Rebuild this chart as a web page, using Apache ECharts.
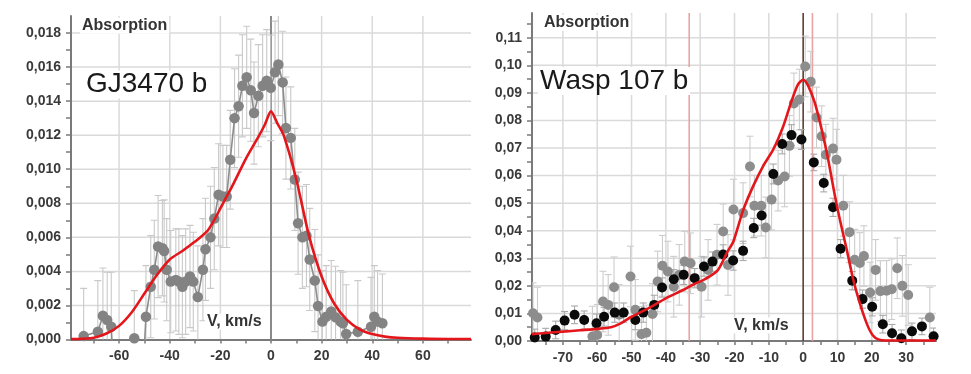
<!DOCTYPE html>
<html><head><meta charset="utf-8">
<script src="https://cdn.jsdelivr.net/npm/echarts@6/dist/echarts.min.js"></script>
<style>html,body{margin:0;padding:0;background:#fff}#c{width:971px;height:374px}</style>
</head><body><div id="c"></div>
<script>
// ---------- GJ3470 b (left panel) ----------
const gjV = [-74.0,-68.4,-66.4,-64.7,-63.1,-61.7,-60.0,-58.3,-56.6,-55.2,-54.0,-52.5,-50.9,-49.4,-47.5,-46.1,-44.6,-42.9,-42.2,-41.2,-39.6,-37.6,-36.4,-35.0,-33.7,-32.0,-30.7,-28.9,-26.9,-25.9,-23.9,-22.4,-20.7,-19.0,-17.5,-16.1,-14.4,-12.8,-11.3,-9.6,-8.0,-6.7,-5.0,-3.3,-1.7,-0.1,1.6,2.9,4.6,5.9,7.8,9.4,10.7,12.4,14.0,15.3,17.3,18.6,20.3,21.8,23.8,25.5,27.5,28.4,29.7,34.3,39.5,40.8,42.1,44.0];
const gjA = [0.0002,0.00046,0.0014,0.00115,0.00075,-0.0035,-0.005,-0.004,-0.0032,-0.003,0.00007,-0.004,-0.003,0.00134,0.0031,0.0041,0.00546,0.00536,0.0052,0.0041,0.0034,0.0035,0.0034,0.0031,0.0034,0.0037,0.0034,0.0025,0.0041,0.0053,0.0060,0.0071,0.0085,0.0084,0.0084,0.01056,0.0130,0.0137,0.0149,0.0154,0.01464,0.0133,0.01432,0.0149,0.0152,0.01478,0.0157,0.01615,0.0151,0.01242,0.01184,0.0094,0.00683,0.0060,0.0061,0.0047,0.00346,0.00197,0.00105,0.00134,0.00164,0.0013,0.00105,0.00095,0.00032,0.00046,0.00075,0.00134,0.00105,0.00095];
const gjErr = [0.0028,0.0030,0.0028,0.0028,0.0032,0.0030,0.0030,0.0030,0.0030,0.0028,0.0028,0.0030,0.0028,0.0030,0.0030,0.0029,0.0030,0.0028,0.0030,0.0030,0.0030,0.0030,0.0031,0.0030,0.0031,0.0030,0.0029,0.0030,0.0030,0.0030,0.0030,0.0030,0.0030,0.0030,0.0030,0.0029,0.0029,0.0030,0.0030,0.0030,0.0030,0.0030,0.0030,0.0030,0.0030,0.0031,0.0030,0.0030,0.0030,0.0030,0.0030,0.0030,0.0030,0.0030,0.0030,0.0030,0.0030,0.0030,0.0030,0.0030,0.0030,0.0030,0.0030,0.0030,0.0029,0.0030,0.0029,0.0030,0.0030,0.0029];
const gjModelV = [-79,-75,-70,-65,-60,-55,-50,-45,-40,-35,-30,-25,-22.5,-20,-17.5,-15,-10,-5,-2.5,0,2.5,5,10,15,20,25,30,35,40,45,50,60,70,79];
const gjModelA = [0.00002,0.00004,0.0001,0.00035,0.0008,0.0016,0.0027,0.0038,0.0047,0.0052,0.00575,0.0064,0.0070,0.0077,0.0084,0.0091,0.0106,0.0119,0.0126,0.0134,0.0127,0.0120,0.0094,0.0061,0.0037,0.0021,0.00115,0.0006,0.00032,0.00017,0.0001,0.00005,0.00003,0.00003];
const gjXLabels = [-60,-40,-20,0,20,40,60];
const gjXTicks = [-70,-60,-50,-40,-30,-20,-10,0,10,20,30,40,50,60,70];
const gjYLabels = [0,0.002,0.004,0.006,0.008,0.010,0.012,0.014,0.016,0.018];
const gjYTicks = [0,0.001,0.002,0.003,0.004,0.005,0.006,0.007,0.008,0.009,0.010,0.011,0.012,0.013,0.014,0.015,0.016,0.017,0.018];
const gjGridX = [-60,-40,-20,20,40,60];
const gjGridY = [0.002,0.004,0.006,0.008,0.010,0.012,0.014,0.016,0.018];
const gjZero = [0];

// ---------- Wasp 107 b (right panel) ----------
const wGrayV = [-78.7,-77.4,-61.4,-60.0,-58.3,-56.8,-55.1,-53.6,-50.3,-48.9,-47.1,-45.7,-43.9,-42.4,-41.0,-39.4,-37.7,-36.1,-34.5,-32.8,-29.6,-27.7,-25.1,-23.3,-21.9,-20.3,-17.5,-15.5,-14.2,-12.2,-10.9,-9.2,-7.3,-5.4,-4.0,-2.7,-1.1,0.6,2.2,3.9,5.4,6.6,8.7,9.7,11.7,13.5,15.0,16.5,17.7,19.5,21.1,22.5,24.3,25.8,27.4,28.9,30.6,36.9];
const wGrayA = [0.0101,0.0085,0.0016,0.0022,0.0143,0.0131,0.0195,0.0095,0.0234,0.0113,0.0025,0.0030,0.0098,0.0216,0.0273,0.0252,0.0197,0.0240,0.0288,0.0282,0.0197,0.0258,0.0313,0.0397,0.0276,0.0477,0.0464,0.0633,0.0491,0.0491,0.0412,0.0513,0.0582,0.0597,0.0708,0.0862,0.0876,0.0996,0.0941,0.0811,0.0743,0.0676,0.0698,0.0658,0.0491,0.0395,0.0295,0.0283,0.0308,0.0176,0.0258,0.0181,0.0182,0.0188,0.0264,0.0200,0.0167,0.0085];
const wGrayErr = [0.011,0.011,0.011,0.011,0.011,0.011,0.011,0.011,0.011,0.011,0.010,0.010,0.011,0.011,0.011,0.011,0.011,0.011,0.011,0.011,0.011,0.011,0.011,0.010,0.011,0.011,0.011,0.011,0.011,0.011,0.011,0.011,0.011,0.011,0.011,0.011,0.011,0.011,0.011,0.011,0.011,0.011,0.011,0.011,0.011,0.011,0.011,0.011,0.011,0.011,0.011,0.011,0.011,0.011,0.011,0.011,0.011,0.011];
const wBlackV = [-78.2,-75.0,-72.1,-69.5,-66.6,-63.8,-60.2,-58.0,-54.9,-52.3,-48.9,-46.6,-43.4,-41.1,-37.7,-34.8,-31.6,-28.9,-26.4,-23.3,-20.4,-17.5,-14.4,-12.1,-8.7,-6.1,-3.4,-0.5,3.1,6.0,8.7,10.9,14.3,17.3,20.1,23.2,25.9,28.6,31.7,34.6,38.0];
const wBlackA = [0.0013,0.0016,0.0040,0.0074,0.0095,0.0076,0.0064,0.0088,0.0103,0.0103,0.0076,0.0103,0.0131,0.0194,0.0224,0.0240,0.0228,0.0270,0.0288,0.0314,0.0292,0.0327,0.0410,0.0455,0.0606,0.0715,0.0747,0.0731,0.0648,0.0573,0.0485,0.0335,0.0219,0.0152,0.0124,0.0061,0.0028,0.0010,0.0035,0.0053,0.0017];
const wBlackErr = [0.0030,0.0030,0.0032,0.0033,0.0032,0.0033,0.0034,0.0034,0.0035,0.0035,0.0035,0.0035,0.0035,0.0035,0.0035,0.0035,0.0035,0.0035,0.0035,0.0035,0.0035,0.0035,0.0035,0.0035,0.0036,0.0036,0.0038,0.0036,0.0030,0.0032,0.0033,0.0033,0.0033,0.0033,0.0033,0.0032,0.0032,0.0030,0.0030,0.0030,0.0030];
const wModelV = [-79,-75,-70,-65,-60,-56,-53,-50,-45,-40,-35,-32,-29,-27,-25,-24.3,-23,-22,-20.3,-17.5,-14.6,-11.7,-8.7,-5.8,-3.4,-1.5,0,1.5,3.4,5.4,7.3,9.2,10.7,12.7,14.6,16.5,18.5,20.2,21.9,24,30,38.7];
const wModelA = [0.0025,0.0029,0.0034,0.0039,0.0044,0.0050,0.0065,0.0088,0.0119,0.0155,0.0185,0.0205,0.0222,0.0236,0.0255,0.0268,0.0300,0.0325,0.0362,0.0474,0.0561,0.0634,0.0695,0.0779,0.0870,0.0931,0.0948,0.0925,0.0864,0.0767,0.0658,0.0530,0.0440,0.0331,0.0222,0.0137,0.0064,0.0022,0.0006,0.0002,0.0002,0.0002];
const wXLabels = [-70,-60,-50,-40,-30,-20,-10,0,10,20,30];
const wXTicks = [-75,-70,-65,-60,-55,-50,-45,-40,-35,-30,-25,-20,-15,-10,-5,0,5,10,15,20,25,30,35];
const wYLabels = [0,0.01,0.02,0.03,0.04,0.05,0.06,0.07,0.08,0.09,0.10,0.11];
const wYTicks = [0,0.005,0.01,0.015,0.02,0.025,0.03,0.035,0.04,0.045,0.05,0.055,0.06,0.065,0.07,0.075,0.08,0.085,0.09,0.095,0.10,0.105,0.11,0.115];
const wGridX = [-70,-60,-50,-40,-30,-20,-10,10,20,30];
const wGridY = [0.01,0.02,0.03,0.04,0.05,0.06,0.07,0.08,0.09,0.10,0.11];
const wZero = [0];
const wMarkV = [-33.2, 2.7];

const FONT = '"Liberation Sans", Arial, sans-serif';
const AXC = '#7a7a7a';
const GRIDC = '#dadada';

function zip(...arrs){ return arrs[0].map((_, i) => arrs.map(a => a[i])); }

function vLines(color, width){
  return function(params, api){
    const cs = params.coordSys;
    const x = api.coord([api.value(0), api.value(1)])[0];
    return {type:'line', shape:{x1:x, y1:cs.y, x2:x, y2:cs.y+cs.height}, style:{stroke:color, lineWidth:width}};
  };
}
function hLines(color, width){
  return function(params, api){
    const cs = params.coordSys;
    const y = api.coord([api.value(0), api.value(1)])[1];
    return {type:'line', shape:{x1:cs.x, y1:y, x2:cs.x+cs.width, y2:y}, style:{stroke:color, lineWidth:width}};
  };
}
function errBars(color, cap){
  return function(params, api){
    const x = api.value(0), y = api.value(1), e = api.value(2);
    const t = api.coord([x, y + e]), b = api.coord([x, y - e]);
    const st = {stroke:color, lineWidth:1.1};
    return {type:'group', children:[
      {type:'line', shape:{x1:t[0], y1:t[1], x2:b[0], y2:b[1]}, style:st},
      {type:'line', shape:{x1:t[0]-cap, y1:t[1], x2:t[0]+cap, y2:t[1]}, style:st},
      {type:'line', shape:{x1:b[0]-cap, y1:b[1], x2:b[0]+cap, y2:b[1]}, style:st}
    ]};
  };
}

function xAxisCfg(idx, min, max, labels, ticks){
  return {type:'value', gridIndex:idx, min:min, max:max,
    axisLine:{show:true, onZero:false, lineStyle:{color:AXC, width:2}},
    axisTick:{show:true, customValues:ticks, length:4, lineStyle:{color:AXC, width:1.5}},
    axisLabel:{customValues:labels, margin:10, color:'#3a3a3a', fontFamily:FONT, fontWeight:'bold', fontSize:14},
    splitLine:{show:false}};
}
function yAxisCfg(idx, min, max, labels, ticks, dec){
  return {type:'value', gridIndex:idx, min:min, max:max,
    axisLine:{show:true, onZero:false, lineStyle:{color:AXC, width:2}},
    axisTick:{show:true, customValues:ticks, length:5, lineStyle:{color:AXC, width:1.5}},
    axisLabel:{customValues:labels, margin:10, color:'#3a3a3a', fontFamily:FONT, fontWeight:'bold', fontSize:14,
      formatter:v => Number(v).toFixed(dec).replace('.', ',')},
    splitLine:{show:false}};
}
function label(text, x, y, font, fill){
  return {type:'text', x:x - 2, y:y, z:50,
    style:{text:text, font:font, fill:fill, verticalAlign:'middle', backgroundColor:'#fff', padding:[0,2]}};
}

const chart = echarts.init(document.getElementById('c'), null, {renderer:'canvas'});
chart.setOption({
  backgroundColor:'#fff',
  animation:false,
  grid:[
    {left:71, top:16, width:400, height:323.5},
    {left:532, top:13, width:404, height:328}
  ],
  xAxis:[ xAxisCfg(0, -79, 79, gjXLabels, gjXTicks), xAxisCfg(1, -79, 38.7, wXLabels, wXTicks) ],
  yAxis:[ yAxisCfg(0, 0, 0.019, gjYLabels, gjYTicks, 3), yAxisCfg(1, 0, 0.119, wYLabels, wYTicks, 2) ],
  graphic:[
    label('Absorption', 82, 25.8, 'bold 16px '+FONT, '#333'),
    label('GJ3470 b', 86, 84.5, '28px '+FONT, '#1a1a1a'),
    label('V, km/s', 207, 321.7, 'bold 16px '+FONT, '#333'),
    label('Absorption', 544, 22.8, 'bold 16px '+FONT, '#333'),
    label('Wasp 107 b', 540, 81, '28px '+FONT, '#1a1a1a'),
    label('V, km/s', 734, 325.5, 'bold 16px '+FONT, '#333')
  ],
  series:[
    // left panel
    {type:'custom', xAxisIndex:0, yAxisIndex:0, z:0, silent:true, renderItem:vLines(GRIDC, 1.5), data:gjGridX.map(v=>[v,0])},
    {type:'custom', xAxisIndex:0, yAxisIndex:0, z:0, silent:true, renderItem:hLines(GRIDC, 1.5), data:gjGridY.map(v=>[0,v])},
    {type:'custom', xAxisIndex:0, yAxisIndex:0, z:1, silent:true, renderItem:vLines('#8a8a8a', 2), data:gjZero.map(v=>[v,0])},
    {type:'custom', xAxisIndex:0, yAxisIndex:0, z:1, clip:true, silent:true, renderItem:errBars('#c9c9c9', 3.5), data:zip(gjV, gjA, gjErr)},
    {type:'line', xAxisIndex:0, yAxisIndex:0, z:3, data:zip(gjV, gjA), symbol:'circle', symbolSize:10.5, showAllSymbol:true,
      itemStyle:{color:'#838383', opacity:1}, lineStyle:{color:'#8c8c8c', width:1.6}, clip:true},
    {type:'line', xAxisIndex:0, yAxisIndex:0, z:4, data:zip(gjModelV, gjModelA), symbol:'none', smooth:0.25,
      lineStyle:{color:'#e3171b', width:2.6}},
    // right panel
    {type:'custom', xAxisIndex:1, yAxisIndex:1, z:0, silent:true, renderItem:vLines(GRIDC, 1.5), data:wGridX.map(v=>[v,0])},
    {type:'custom', xAxisIndex:1, yAxisIndex:1, z:0, silent:true, renderItem:hLines(GRIDC, 1.5), data:wGridY.map(v=>[0,v])},
    {type:'custom', xAxisIndex:1, yAxisIndex:1, z:1, silent:true, renderItem:vLines('#e9a3a3', 1.6), data:wMarkV.map(v=>[v,0])},
    {type:'custom', xAxisIndex:1, yAxisIndex:1, z:1, silent:true, renderItem:vLines('#5e3e36', 1.6), data:wZero.map(v=>[v,0])},
    {type:'custom', xAxisIndex:1, yAxisIndex:1, z:1, clip:true, silent:true, renderItem:errBars('#cdcdcd', 3.5), data:zip(wGrayV, wGrayA, wGrayErr)},
    {type:'custom', xAxisIndex:1, yAxisIndex:1, z:1, clip:true, silent:true, renderItem:errBars('#a9a9a9', 3.5), data:zip(wBlackV, wBlackA, wBlackErr)},
    {type:'scatter', xAxisIndex:1, yAxisIndex:1, z:3, data:zip(wGrayV, wGrayA), symbol:'circle', symbolSize:10, itemStyle:{color:'#8d8d8d', opacity:1}, clip:true},
    {type:'scatter', xAxisIndex:1, yAxisIndex:1, z:3, data:zip(wBlackV, wBlackA), symbol:'circle', symbolSize:10, itemStyle:{color:'#0a0a0a', opacity:1}, clip:true},
    {type:'line', xAxisIndex:1, yAxisIndex:1, z:4, data:zip(wModelV, wModelA), symbol:'none', smooth:0.25,
      lineStyle:{color:'#e3171b', width:2.6}}
  ]
});
</script>
</body></html>
